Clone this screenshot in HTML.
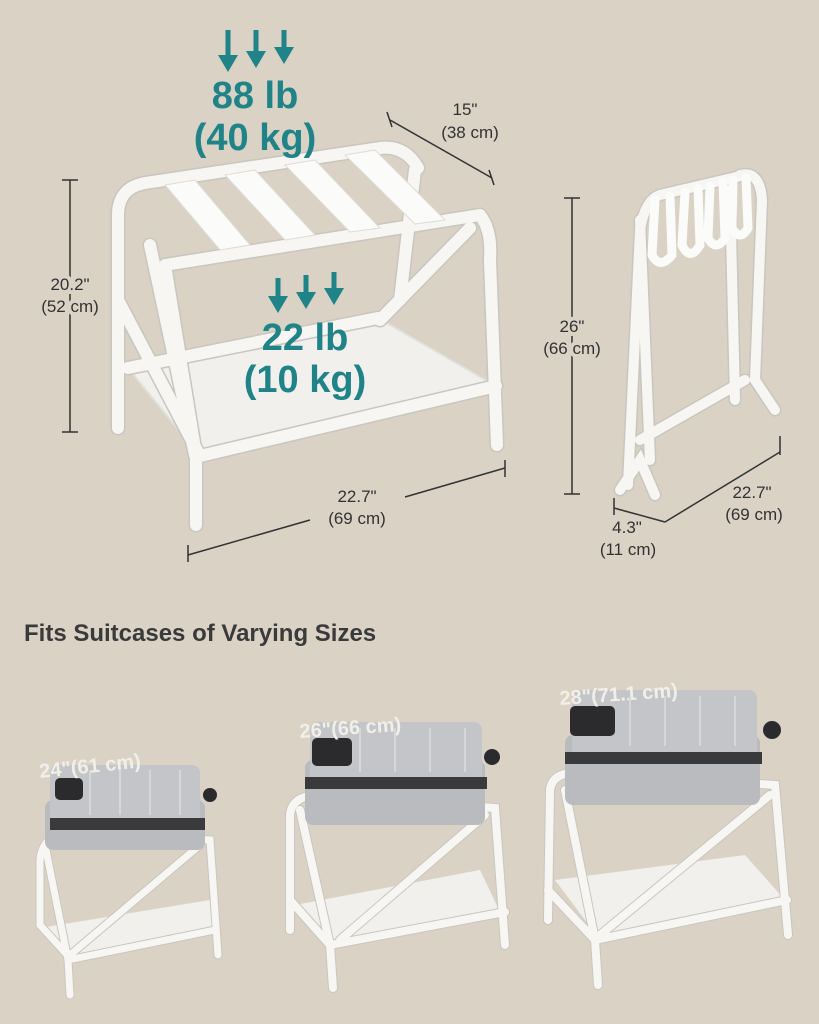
<!DOCTYPE html>
<html><head><meta charset="utf-8"><style>
html,body{margin:0;padding:0;background:#d9d2c5;}
svg{display:block}
text{font-family:"Liberation Sans",sans-serif;}
</style></head><body>
<svg width="819" height="1024" viewBox="0 0 819 1024" xmlns="http://www.w3.org/2000/svg">
<rect width="819" height="1024" fill="#d9d2c5"/>
<g stroke="#1f8388" stroke-width="5" fill="#1f8388">
<line x1="228" y1="30" x2="228" y2="62"/><path d="M218,55 L238,55 L228,72z" stroke="none"/>
<line x1="256" y1="30" x2="256" y2="58"/><path d="M246,51 L266,51 L256,68z" stroke="none"/>
<line x1="284" y1="30" x2="284" y2="54"/><path d="M274,47 L294,47 L284,64z" stroke="none"/>
<line x1="278" y1="278" x2="278" y2="302"/><path d="M268,296 L288,296 L278,313z" stroke="none"/>
<line x1="306" y1="275" x2="306" y2="298"/><path d="M296,292 L316,292 L306,309z" stroke="none"/>
<line x1="334" y1="272" x2="334" y2="294"/><path d="M324,288 L344,288 L334,305z" stroke="none"/>
</g>
<g fill="none" stroke-linecap="round" stroke-linejoin="round">
<polygon points="128,368 378,318 496,386 200,456" fill="#f1f0ec" stroke="#e2e0da" stroke-width="2"/>
<g stroke="#c9c6bf" stroke-width="15">
<path d="M118,428 L118,215 Q118,188 145,183 L380,148 Q405,145 418,168"/>
<path d="M196,525 L196,455 L165,265 L480,215 Q492,230 490,260 L497,445"/>
<path d="M150,245 L195,455 M415,170 L400,300 M470,228 L380,320 M118,300 L200,456 M128,368 L378,318 M200,456 L496,386"/>
</g>
<g stroke="#f7f6f3" stroke-width="12">
<path d="M118,428 L118,215 Q118,188 145,183 L380,148 Q405,145 418,168"/>
<path d="M196,525 L196,455 L165,265 L480,215 Q492,230 490,260 L497,445"/>
<path d="M150,245 L195,455 M415,170 L400,300 M470,228 L380,320 M118,300 L200,456 M128,368 L378,318 M200,456 L496,386"/>
</g>
<g fill="#fbfbf9" stroke="#dedcd6" stroke-width="1">
<polygon points="165,185 195,180 250,245 220,250"/>
<polygon points="225,175 255,170 315,235 285,240"/>
<polygon points="285,165 315,160 380,228 350,232"/>
<polygon points="345,155 375,150 445,220 415,224"/>
</g>
</g>
<text x="255" y="108" font-size="38" font-weight="bold" fill="#1f8388" text-anchor="middle">88 lb</text>
<text x="255" y="150" font-size="38" font-weight="bold" fill="#1f8388" text-anchor="middle">(40 kg)</text>
<text x="305" y="350" font-size="38" font-weight="bold" fill="#1f8388" text-anchor="middle">22 lb</text>
<text x="305" y="392" font-size="38" font-weight="bold" fill="#1f8388" text-anchor="middle">(10 kg)</text>
<g stroke="#333" stroke-width="1.5">
<line x1="70" y1="180" x2="70" y2="432"/><line x1="62" y1="180" x2="78" y2="180"/><line x1="62" y1="432" x2="78" y2="432"/>
<line x1="390" y1="120" x2="492" y2="178"/><line x1="387" y1="112" x2="392" y2="127"/><line x1="489" y1="170" x2="494" y2="185"/>
<line x1="188" y1="555" x2="310" y2="520"/><line x1="405" y1="497" x2="505" y2="468"/><line x1="188" y1="545" x2="188" y2="562"/><line x1="505" y1="460" x2="505" y2="477"/>
<line x1="572" y1="198" x2="572" y2="494"/><line x1="564" y1="198" x2="580" y2="198"/><line x1="564" y1="494" x2="580" y2="494"/>
<line x1="614" y1="508" x2="665" y2="522"/><line x1="665" y1="522" x2="780" y2="452"/><line x1="614" y1="498" x2="614" y2="515"/><line x1="780" y1="436" x2="780" y2="455"/>
</g>
<g font-size="17" fill="#333" text-anchor="middle">
<text x="70" y="290" style="paint-order:stroke" stroke="#d9d2c5" stroke-width="8">20.2"</text><text x="70" y="312" stroke="#d9d2c5" stroke-width="8" style="paint-order:stroke">(52 cm)</text>
<text x="465" y="115">15"</text><text x="470" y="138">(38 cm)</text>
<text x="357" y="502">22.7"</text><text x="357" y="524">(69 cm)</text>
<text x="572" y="332" stroke="#d9d2c5" stroke-width="8" style="paint-order:stroke">26"</text><text x="572" y="354" stroke="#d9d2c5" stroke-width="8" style="paint-order:stroke">(66 cm)</text>
<text x="752" y="498">22.7"</text><text x="754" y="520">(69 cm)</text>
<text x="627" y="533">4.3"</text><text x="628" y="555">(11 cm)</text>
</g>
<g fill="none" stroke-linecap="round">
<g stroke="#c9c6bf" stroke-width="13">
<path d="M628,485 L640,230 Q645,200 660,195 L745,175"/><path d="M655,495 L640,460 L620,490 M640,440 L745,380"/>
<path d="M740,175 Q760,170 762,200 L755,380 L775,410"/><path d="M640,220 L650,460 M730,190 L735,400"/>
</g>
<g stroke="#f7f6f3" stroke-width="10">
<path d="M628,485 L640,230 Q645,200 660,195 L745,175"/><path d="M655,495 L640,460 L620,490 M640,440 L745,380"/>
<path d="M740,175 Q760,170 762,200 L755,380 L775,410"/><path d="M640,220 L650,460 M730,190 L735,400"/>
</g>
<g stroke="#fbfbf9" stroke-width="9">
<path d="M655,200 L652,255 Q660,270 672,255 L670,196"/>
<path d="M685,192 L682,245 Q690,262 700,245 L698,188"/>
<path d="M710,186 L708,238 Q716,252 725,238 L723,182"/>
<path d="M733,180 L732,228 Q740,242 748,228 L746,178"/>
</g>
</g>
<text x="24" y="641" font-size="24" font-weight="bold" fill="#3a3a3a">Fits Suitcases of Varying Sizes</text>
<g fill="none" stroke-linecap="round">
<polygon points="40,928 210,900 215,930 70,958" fill="#f1f0ec"/>
<g stroke="#c9c6bf" stroke-width="9">
<path d="M40,925 L40,860 Q42,835 70,832 L210,840 L218,955"/><path d="M70,995 L68,960 L45,845 M68,960 L215,930 M40,925 L70,958 M200,845 L70,955"/>
</g>
<g stroke="#f7f6f3" stroke-width="7">
<path d="M40,925 L40,860 Q42,835 70,832 L210,840 L218,955"/><path d="M70,995 L68,960 L45,845 M68,960 L215,930 M40,925 L70,958 M200,845 L70,955"/>
</g>
</g>
<g fill="none" stroke-linecap="round">
<polygon points="295,905 480,870 500,912 330,945" fill="#f1f0ec"/>
<g stroke="#c9c6bf" stroke-width="10">
<path d="M290,930 L290,815 Q292,795 320,795 L495,808 L505,945"/><path d="M333,988 L330,945 L300,810 M330,945 L505,912 M290,900 L330,945 M485,815 L340,940"/>
</g>
<g stroke="#f7f6f3" stroke-width="8">
<path d="M290,930 L290,815 Q292,795 320,795 L495,808 L505,945"/><path d="M333,988 L330,945 L300,810 M330,945 L505,912 M290,900 L330,945 M485,815 L340,940"/>
</g>
</g>
<g fill="none" stroke-linecap="round">
<polygon points="555,880 745,855 785,900 600,940" fill="#f1f0ec"/>
<g stroke="#c9c6bf" stroke-width="10">
<path d="M548,920 L550,790 Q552,772 580,772 L775,785 L788,935"/><path d="M598,985 L595,940 L565,790 M595,940 L787,900 M548,890 L595,940 M770,795 L600,935"/>
</g>
<g stroke="#f7f6f3" stroke-width="8">
<path d="M548,920 L550,790 Q552,772 580,772 L775,785 L788,935"/><path d="M598,985 L595,940 L565,790 M595,940 L787,900 M548,890 L595,940 M770,795 L600,935"/>
</g>
</g>
<g>
<rect x="45" y="800" width="160" height="50" rx="8" fill="#b9bbbe"/>
<rect x="50" y="765" width="150" height="62" rx="8" fill="#c3c5c8"/>
<rect x="50" y="818" width="155" height="12" fill="#3a3a3c"/>
<rect x="55" y="778" width="28" height="22" rx="5" fill="#2b2b2d"/>
<circle cx="210" cy="795" r="7" fill="#2b2b2d"/>
<text x="40" y="778" font-size="20" font-weight="bold" fill="#f2efe9" transform="rotate(-6 40 778)">24"(61 cm)</text>
</g>
<g>
<rect x="305" y="760" width="180" height="65" rx="8" fill="#b9bbbe"/>
<rect x="310" y="722" width="172" height="62" rx="8" fill="#c3c5c8"/>
<rect x="305" y="777" width="182" height="12" fill="#3a3a3c"/>
<rect x="312" y="738" width="40" height="28" rx="5" fill="#2b2b2d"/>
<circle cx="492" cy="757" r="8" fill="#2b2b2d"/>
<text x="300" y="738" font-size="20" font-weight="bold" fill="#f2efe9" transform="rotate(-4 300 738)">26"(66 cm)</text>
</g>
<g>
<rect x="565" y="735" width="195" height="70" rx="8" fill="#b9bbbe"/>
<rect x="572" y="690" width="185" height="68" rx="8" fill="#c3c5c8"/>
<rect x="565" y="752" width="197" height="12" fill="#3a3a3c"/>
<rect x="570" y="706" width="45" height="30" rx="5" fill="#2b2b2d"/>
<circle cx="772" cy="730" r="9" fill="#2b2b2d"/>
<text x="560" y="705" font-size="20" font-weight="bold" fill="#f2efe9" transform="rotate(-4 560 705)">28"(71.1 cm)</text>
</g>
<g stroke="#d6d7d9" stroke-width="2">
<line x1="90" y1="770" x2="90" y2="815"/><line x1="120" y1="770" x2="120" y2="815"/><line x1="150" y1="770" x2="150" y2="815"/><line x1="180" y1="770" x2="180" y2="815"/>
<line x1="360" y1="728" x2="360" y2="772"/><line x1="395" y1="728" x2="395" y2="772"/><line x1="430" y1="728" x2="430" y2="772"/><line x1="465" y1="728" x2="465" y2="772"/>
<line x1="630" y1="696" x2="630" y2="746"/><line x1="665" y1="696" x2="665" y2="746"/><line x1="700" y1="696" x2="700" y2="746"/><line x1="735" y1="696" x2="735" y2="746"/>
</g>
</svg>
</body></html>
